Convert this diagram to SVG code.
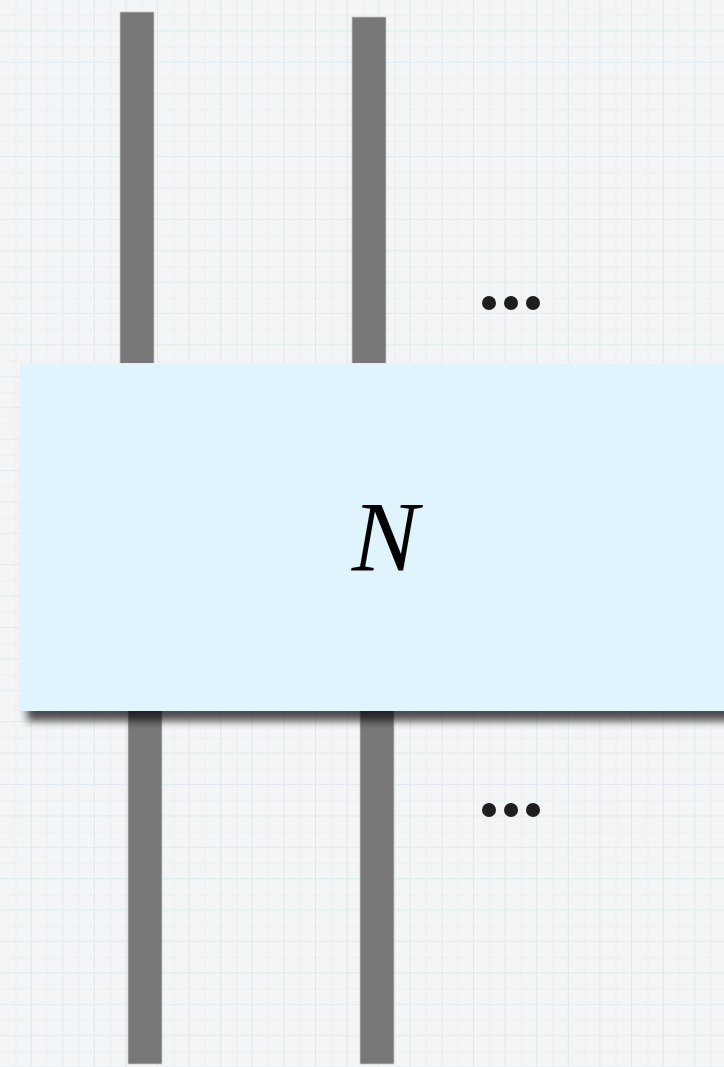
<svg xmlns="http://www.w3.org/2000/svg" width="724" height="1067" viewBox="0 0 724 1067">
<style>
.wire{fill:#777777;stroke:#c8c8c8;stroke-width:0.8}
.dot{fill:#1e1e1e}
.lbl{font-family:"Liberation Serif","Times New Roman",serif;font-style:italic;font-size:100px;fill:#000}
</style>
<defs>
<pattern id="grid" x="0" y="0" width="31.6" height="31.4" patternUnits="userSpaceOnUse">
<rect width="31.6" height="31.4" fill="#f4f5f6"/>
<path d="M15.8 0V31.4M0 15.7H31.6" stroke="#ebeff1" stroke-width="1"/>
<path d="M31.6 0V31.4M0 31.4H31.6" stroke="#dbe5e9" stroke-width="1.6"/>
</pattern>
<filter id="sh" x="-10%" y="-10%" width="130%" height="130%">
<feGaussianBlur in="SourceAlpha" stdDeviation="4.5"/>
<feOffset dx="7" dy="10"/>
<feComponentTransfer><feFuncA type="linear" slope="0.7"/></feComponentTransfer>
<feMerge><feMergeNode/><feMergeNode in="SourceGraphic"/></feMerge>
</filter>
</defs>
<rect width="724" height="1067" fill="url(#grid)"/>
<g id="connectors">
<rect class="wire" x="120" y="12" width="34" height="354"/>
<rect class="wire" x="352" y="17" width="34" height="354"/>
<rect class="wire" x="128" y="700" width="34" height="364"/>
<rect class="wire" x="360" y="700" width="34" height="364"/>
</g>
<g id="node-N">
<rect x="20" y="363" width="720" height="348" fill="#e0f4fd" filter="url(#sh)"/>
<text class="lbl" x="385" y="570" text-anchor="middle">N</text>
</g>
<g id="dots-top">
<circle class="dot" cx="489" cy="303" r="7"/>
<circle class="dot" cx="511" cy="303" r="7"/>
<circle class="dot" cx="533" cy="303" r="7"/>
</g>
<g id="dots-bottom">
<circle class="dot" cx="489" cy="810" r="7"/>
<circle class="dot" cx="511" cy="810" r="7"/>
<circle class="dot" cx="533" cy="810" r="7"/>
</g>
</svg>
